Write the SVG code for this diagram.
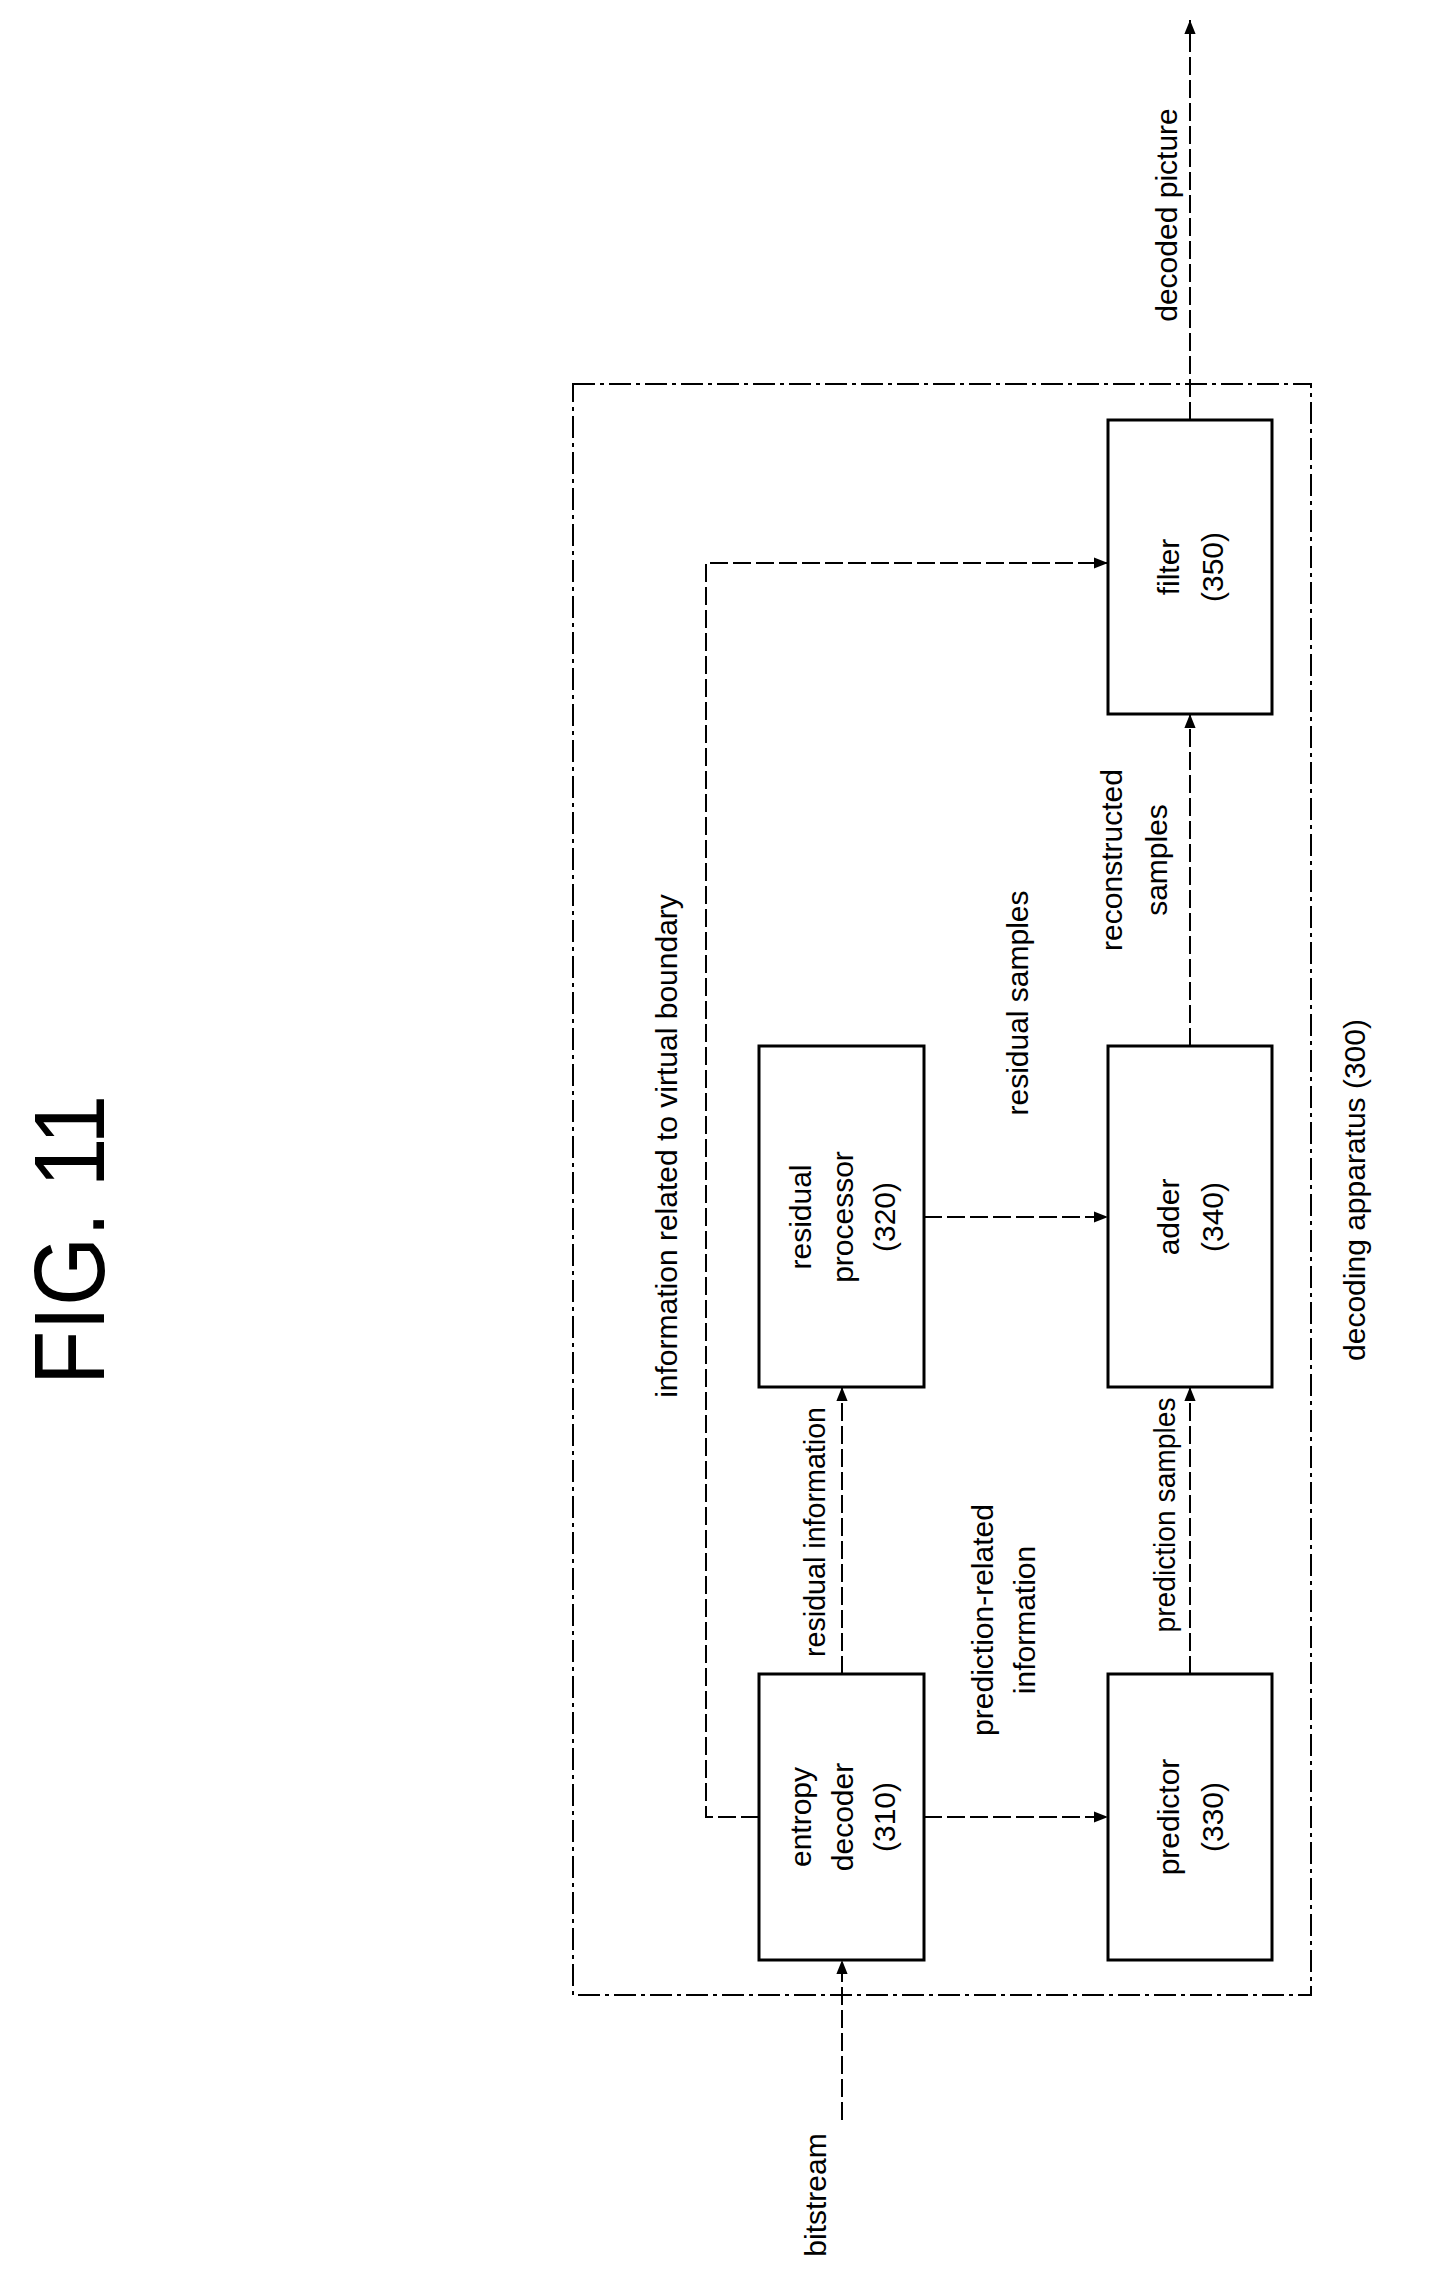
<svg xmlns="http://www.w3.org/2000/svg" width="1433" height="2284" viewBox="0 0 1433 2284">
<style>
.box{fill:#fff;stroke:#000;stroke-width:3}
.outer{fill:none;stroke:#000;stroke-width:2;stroke-dasharray:22 5 4 5}
.c{fill:none;stroke:#000;stroke-width:2;stroke-dasharray:18 5}
.t{font-family:"Liberation Sans",Arial,sans-serif;font-size:30px;fill:#000;text-anchor:middle;dominant-baseline:central}
</style>
<defs>
<marker id="a" viewBox="0 0 10 10" refX="10" refY="5" markerWidth="14" markerHeight="14" markerUnits="userSpaceOnUse" orient="auto"><path d="M0,1 L10,5 L0,9 z" fill="#000"/></marker>
</defs>
<text class="t" transform="translate(69,1240) rotate(-90)" style="font-size:100px" textLength="290" lengthAdjust="spacingAndGlyphs">FIG. 11</text>
<g id="apparatus"><rect class="outer" x="573" y="384" width="738" height="1611"/>
<text class="t" transform="translate(1354,1190) rotate(-90)">decoding apparatus (300)</text></g>
<g id="connectors">
<path class="c" d="M842,2120 V1960" marker-end="url(#a)"/>
<path class="c" d="M842,1674 V1387" marker-end="url(#a)"/>
<path class="c" d="M924,1817 H1108" marker-end="url(#a)"/>
<path class="c" d="M924,1217 H1108" marker-end="url(#a)"/>
<path class="c" d="M1190,1674 V1387" marker-end="url(#a)"/>
<path class="c" d="M1190,1046 V714" marker-end="url(#a)"/>
<path class="c" d="M759,1817 H706 V563 H1108" marker-end="url(#a)"/>
<path class="c" d="M1190,420 V20" marker-end="url(#a)"/>
<text class="t" transform="translate(815,2195) rotate(-90)">bitstream</text>
<text class="t" transform="translate(814,1532) rotate(-90)" textLength="250" lengthAdjust="spacingAndGlyphs">residual information</text>
<text class="t" transform="translate(982,1620) rotate(-90)">prediction-related</text>
<text class="t" transform="translate(1024,1620) rotate(-90)">information</text>
<text class="t" transform="translate(1017,1003) rotate(-90)">residual samples</text>
<text class="t" transform="translate(1164,1515) rotate(-90)" textLength="235" lengthAdjust="spacingAndGlyphs">prediction samples</text>
<text class="t" transform="translate(1111,860) rotate(-90)">reconstructed</text>
<text class="t" transform="translate(1156,860) rotate(-90)">samples</text>
<text class="t" transform="translate(666,1146) rotate(-90)">information related to virtual boundary</text>
<text class="t" transform="translate(1166,215) rotate(-90)">decoded picture</text>
</g>
<g id="entropy"><rect class="box" x="759" y="1674" width="165" height="286"/>
<text class="t" transform="translate(800,1817) rotate(-90)">entropy</text>
<text class="t" transform="translate(842,1817) rotate(-90)">decoder</text>
<text class="t" transform="translate(884,1817) rotate(-90)">(310)</text></g>
<g id="residual"><rect class="box" x="759" y="1046" width="165" height="341"/>
<text class="t" transform="translate(800,1217) rotate(-90)">residual</text>
<text class="t" transform="translate(842,1217) rotate(-90)">processor</text>
<text class="t" transform="translate(884,1217) rotate(-90)">(320)</text></g>
<g id="predictor"><rect class="box" x="1108" y="1674" width="164" height="286"/>
<text class="t" transform="translate(1168,1817) rotate(-90)">predictor</text>
<text class="t" transform="translate(1212,1817) rotate(-90)">(330)</text></g>
<g id="adder"><rect class="box" x="1108" y="1046" width="164" height="341"/>
<text class="t" transform="translate(1168,1217) rotate(-90)">adder</text>
<text class="t" transform="translate(1212,1217) rotate(-90)">(340)</text></g>
<g id="filter"><rect class="box" x="1108" y="420" width="164" height="294"/>
<text class="t" transform="translate(1168,567) rotate(-90)">filter</text>
<text class="t" transform="translate(1212,567) rotate(-90)">(350)</text></g>
</svg>
